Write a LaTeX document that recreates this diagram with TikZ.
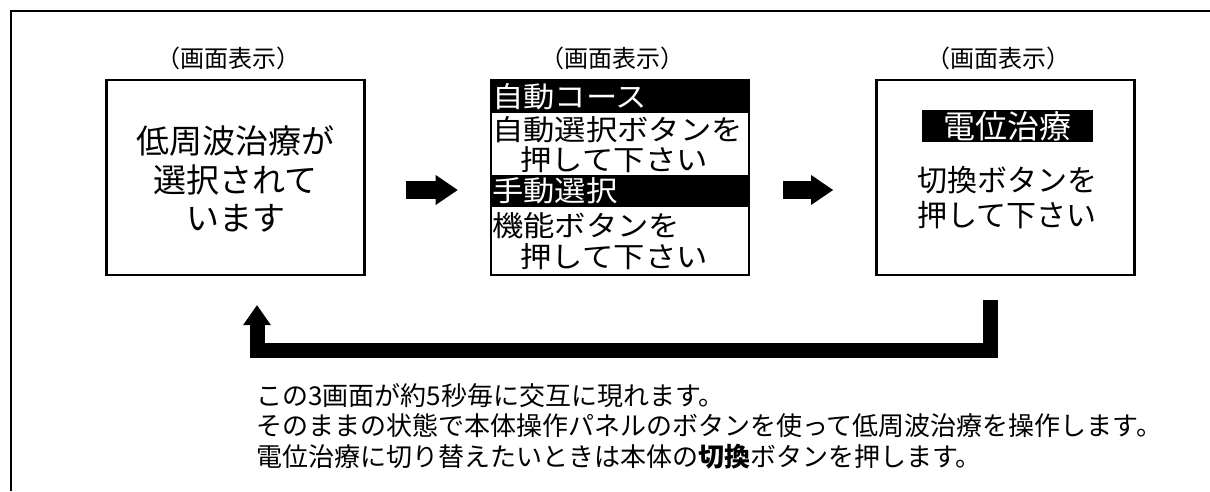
\documentclass[tikz,border=0pt]{standalone}
\usepackage{fontspec}
\setmainfont{Noto Sans CJK JP}
\usetikzlibrary{positioning,arrows.meta}

\begin{document}
\begin{tikzpicture}[
    x=1pt, y=-1pt,
    panel/.style={rectangle, draw, line width=2.4pt, minimum width=258pt, minimum height=195pt, inner sep=0pt},
    caption/.style={inner sep=0pt, font=\fontsize{24}{28}\selectfont},
    bartext/.style={fill=black, text=white, inner ysep=0pt, inner xsep=1pt, font=\fontsize{28.5}{30}\selectfont\addfontfeature{FakeStretch=1.1}},
    rowtext/.style={inner xsep=1pt, inner ysep=0pt, anchor=west, font=\fontsize{28.5}{30}\selectfont\addfontfeature{FakeStretch=1.1}},
    flow/.style={line width=18pt, -{Triangle[length=22pt, width=30pt, line width=0pt]}},
    loopback/.style={line width=15pt, line join=miter, -{Triangle[length=20pt, width=28pt, line width=0pt]}}
]

\useasboundingbox (0,0) rectangle (1210,491);
\draw[line width=1.8pt] (1210,11) -- (11,11) -- (11,491);

% three screens
\node[panel] (screenA) at (235.5,177.5) {};
\node[panel, right=124pt of screenA] (screenB) {};
\node[panel, right=125pt of screenB] (screenC) {};

\node[caption, above=9pt of screenA, xshift=-7pt] (capA) {（画面表示）};
\node[caption, above=9pt of screenB, xshift=-7pt] (capB) {（画面表示）};
\node[caption, above=9pt of screenC, xshift=-7pt] (capC) {（画面表示）};

% screen A
\node[font=\fontsize{33}{38.5}\selectfont, align=center] (textA) at ([yshift=-1.5pt]screenA.center) {低周波治療が\\選択されて\\います};

% screen B
\node[bartext, anchor=north west, text width=256pt, align=left, minimum height=33pt] (autobar) at ([xshift=1.2pt, yshift=-1.2pt]screenB.north west) {自動コース};
\node[bartext, anchor=north west, text width=256pt, align=left, minimum height=32pt] (manualbar) at ([xshift=1.2pt, yshift=-96pt]screenB.north west) {手動選択};
\foreach \rowoff/\rowtext in {51/自動選択ボタンを, 81/\hspace{1em}押して下さい, 147/機能ボタンを, 178/\hspace{1em}押して下さい}
  \node[rowtext] at ([xshift=1.2pt, yshift=-\rowoff pt]screenB.north west) {\rowtext};

% screen C
\node[bartext, minimum width=171pt, minimum height=32pt, inner xsep=0pt, font=\fontsize{32}{34}\selectfont] (potbar) at ([xshift=2pt, yshift=51.5pt]screenC.center) {電位治療};
\node[font=\fontsize{30}{35}\selectfont, align=center] (textC) at ([xshift=2pt, yshift=-20pt]screenC.center) {切換ボタンを\\押して下さい};

% arrows
\draw[flow] ([xshift=40pt, yshift=-12.5pt]screenA.east) -- ([xshift=-32pt, yshift=-12.5pt]screenB.west);
\draw[flow] ([xshift=33pt, yshift=-12.5pt]screenB.east) -- ([xshift=-42pt, yshift=-12.5pt]screenC.west);

\coordinate (loopstart) at ([xshift=-15pt, yshift=-24pt]screenC.south);
\coordinate (loopend) at ([xshift=21.5pt, yshift=-29pt]screenA.south);
\draw[loopback] (loopstart) -- ++(0,50) -| (loopend);

% note
\node[anchor=west, align=left, inner sep=0pt, font=\fontsize{26}{30.5}\selectfont] (note) at (256,426) {この3画面が約5秒毎に交互に現れます。\\そのままの状態で本体操作パネルのボタンを使って低周波治療を操作します。\\電位治療に切り替えたいときは本体の{\bfseries 切換}ボタンを押します。};

\end{tikzpicture}
\end{document}
